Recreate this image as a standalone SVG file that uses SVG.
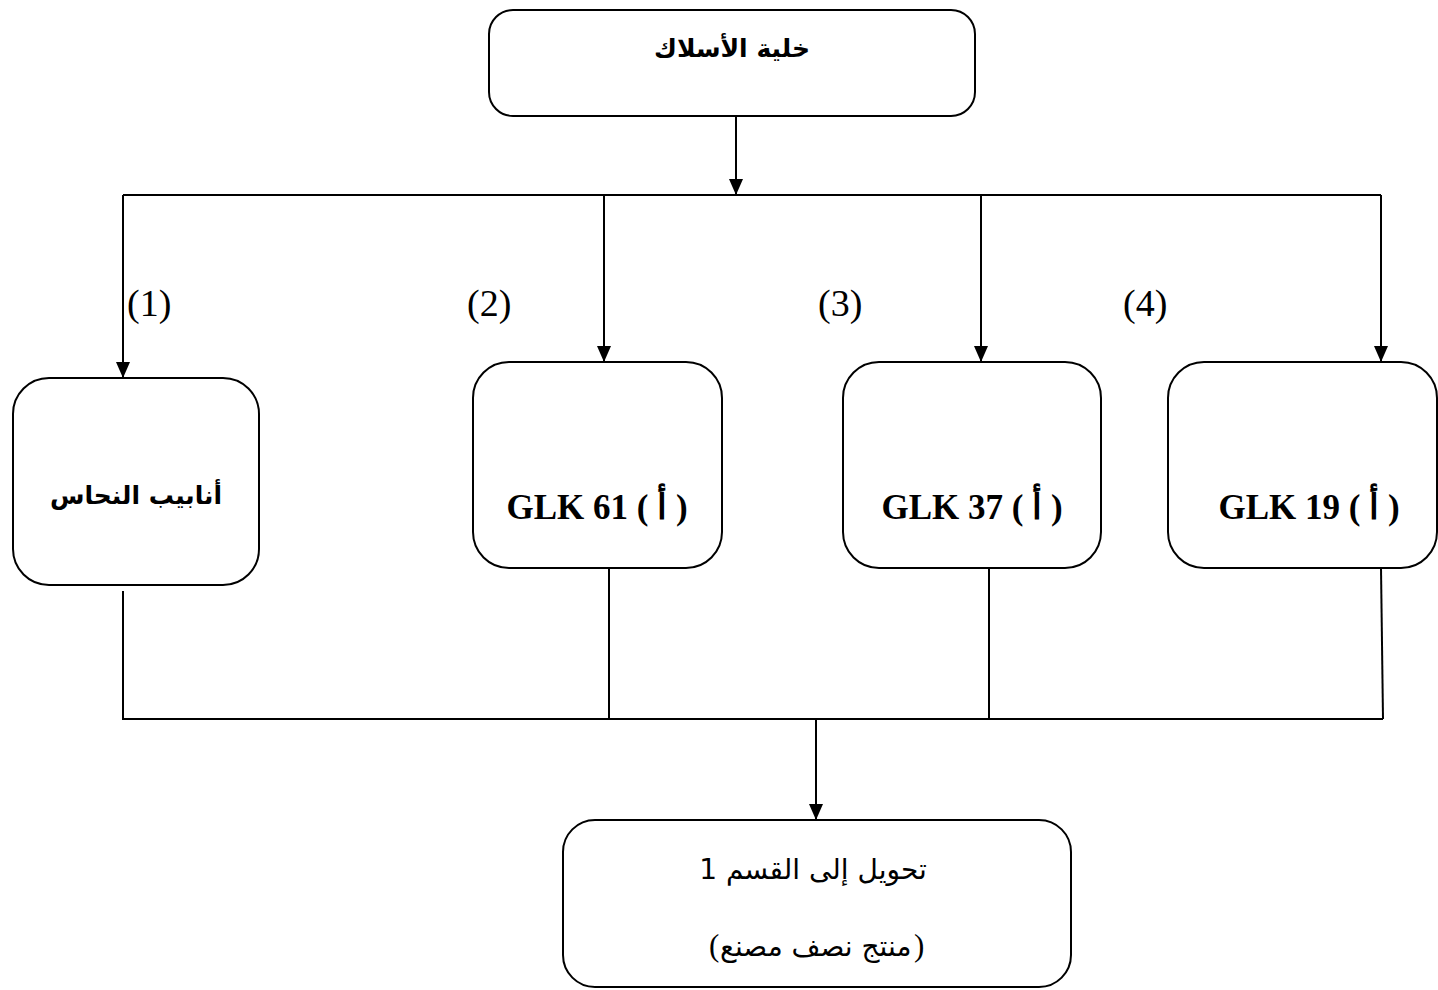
<svg xmlns="http://www.w3.org/2000/svg" width="1438" height="990" viewBox="0 0 1438 990">
  <defs>
    <marker id="arrow" markerUnits="userSpaceOnUse" markerWidth="16" markerHeight="14" refX="16" refY="7" orient="auto">
      <path d="M0,0 L16,7 L0,14 z" fill="#000"/>
    </marker>
    <style>
      .box { fill: #fff; stroke: #000; stroke-width: 2; }
      .wire { fill: none; stroke: #000; stroke-width: 2; }
      .arr { fill: none; stroke: #000; stroke-width: 2; marker-end: url(#arrow); }
      .ar-bold { font-family: "DejaVu Sans", sans-serif; font-weight: bold; font-size: 25px; fill: #000; }
      .ar-reg { font-family: "DejaVu Sans", sans-serif; font-size: 28px; fill: #000; }
      .paren { font-family: "Liberation Serif", "DejaVu Serif", serif; font-size: 31px; fill: #000; }
      .glk { font-family: "Liberation Serif", "DejaVu Serif", serif; font-weight: bold; font-size: 35px; fill: #000; }
      .num { font-family: "Liberation Serif", "DejaVu Serif", serif; font-size: 38px; fill: #000; }
    </style>
  </defs>
  <rect width="1438" height="990" fill="#fff"/>

  <!-- connectors -->
  <g id="connectors">
    <path class="arr" d="M736,116 V195"/>
    <path class="wire" d="M123,195 H1381"/>
    <path class="arr" d="M123,195 V378"/>
    <path class="arr" d="M604,195 V362"/>
    <path class="arr" d="M981,195 V362"/>
    <path class="arr" d="M1381,195 V362"/>
    <path class="wire" d="M123,591 V719 H1383"/>
    <path class="wire" d="M609,568 V719"/>
    <path class="wire" d="M989,568 V719"/>
    <path class="wire" d="M1381,568 L1383,719"/>
    <path class="arr" d="M816,719 V820"/>
  </g>

  <!-- branch numbers -->
  <g id="labels">
    <text class="num" x="127" y="316">(1)</text>
    <text class="num" x="467" y="316">(2)</text>
    <text class="num" x="818" y="316">(3)</text>
    <text class="num" x="1123" y="316">(4)</text>
  </g>

  <g id="wire-cell">
    <rect class="box" x="489" y="10" width="486" height="106" rx="24"/>
    <text class="ar-bold" x="732" y="57" text-anchor="middle" direction="rtl">خلية الأسلاك</text>
  </g>

  <g id="copper-tubes">
    <rect class="box" x="13" y="378" width="246" height="207" rx="36"/>
    <text class="ar-bold" x="136" y="504" text-anchor="middle" direction="rtl">أنابيب النحاس</text>
  </g>

  <g id="glk61">
    <rect class="box" x="473" y="362" width="249" height="206" rx="36"/>
    <text class="glk" x="597" y="519" text-anchor="middle">GLK 61 ( أ )</text>
  </g>

  <g id="glk37">
    <rect class="box" x="843" y="362" width="258" height="206" rx="36"/>
    <text class="glk" x="972" y="519" text-anchor="middle">GLK 37 ( أ )</text>
  </g>

  <g id="glk19">
    <rect class="box" x="1168" y="362" width="269" height="206" rx="36"/>
    <text class="glk" x="1309" y="519" text-anchor="middle">GLK 19 ( أ )</text>
  </g>

  <g id="transfer">
    <rect class="box" x="563" y="820" width="508" height="167" rx="32"/>
    <text class="ar-reg" x="813" y="879" text-anchor="middle" direction="rtl">تحويل إلى القسم 1</text>
    <!-- parentheses set apart so they keep their left/right places -->
    <text class="paren" x="709" y="956">(</text>
    <text class="ar-reg" x="720" y="956" direction="rtl" text-anchor="end" font-size="31">منتج نصف مصنع</text>
    <text class="paren" x="914" y="956">)</text>
  </g>
</svg>
